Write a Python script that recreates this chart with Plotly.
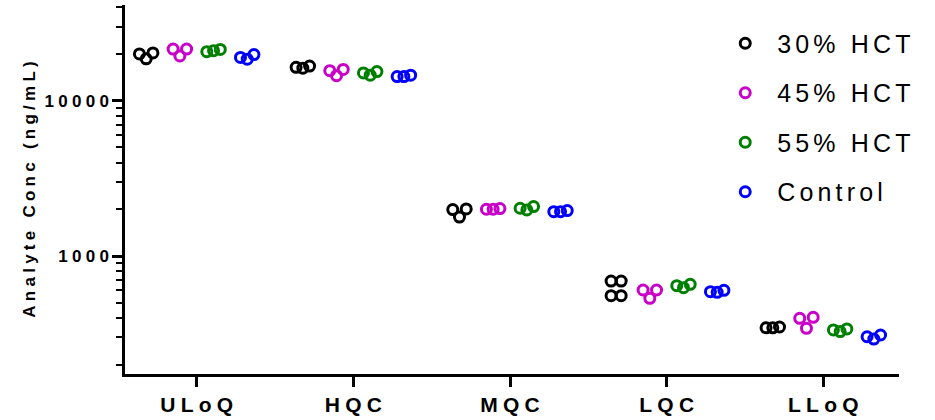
import plotly.graph_objects as go

# Quality-control levels on the x axis
categories = ["ULoQ", "HQC", "MQC", "LQC", "LLoQ"]

# Measured concentrations (ng/mL), replicates per QC level
hct30 = [[20000, 18600, 20300], [16400, 16200, 16700], [1990, 1780, 2010],
         [690, 690, 555, 555], [345, 345, 349]]
hct45 = [[21500, 19400, 21500], [15600, 14500, 15900], [2000, 2000, 2020],
         [604, 534, 604], [397, 342, 403]]
hct55 = [[20700, 21000, 21400], [15100, 14600, 15400], [2030, 1980, 2080],
         [644, 625, 657], [334, 326, 339]]
control = [[19000, 18500, 19800], [14300, 14300, 14600], [1930, 1930, 1960],
           [589, 584, 601], [302, 292, 310]]

series_names = ["30% HCT", "45% HCT", "55% HCT", "Control"]
series_data = [hct30, hct45, hct55, control]
colors = ["#000000", "#C800C8", "#008000", "#0000FF"]

y_major = [1000, 10000]
y_minor = [m * 10 ** e for e in (2, 3, 4) for m in range(2, 10) if 170 < m * 10 ** e < 41000]

GROUP_W = 0.215   # spacing between series within one category
STEP = 0.043      # horizontal spread between replicates


def spread(n):
    """Horizontal offsets for n replicate points of a scatter-dot column."""
    if n == 4:
        return [-0.75 * STEP, 0.75 * STEP, -0.75 * STEP, 0.75 * STEP]
    return [(k - (n - 1) / 2) * STEP for k in range(n)]


def spaced(text, gap):
    return gap.join(text)


fig = go.Figure()
for j, (name, data, col) in enumerate(zip(series_names, series_data, colors)):
    xs, ys = [], []
    for i, vals in enumerate(data):
        base = i + (j - 1.5) * GROUP_W
        for off, v in zip(spread(len(vals)), vals):
            xs.append(base + off)
            ys.append(v)
    fig.add_trace(go.Scatter(
        x=xs, y=ys, mode="markers", name=spaced(name, "\u2006"),
        legendgroup=name,
        marker=dict(symbol="circle-open", size=10, color=col, line=dict(width=3)),
    ))

fig.update_layout(
    width=935, height=420,
    margin=dict(l=125, r=36, t=5, b=46),
    paper_bgcolor="white", plot_bgcolor="white",
    font=dict(family="Liberation Sans, Arial, sans-serif", color="black"),
    showlegend=True,
    legend=dict(
        x=0.76, y=0.958, xanchor="left", yanchor="top",
        font=dict(size=25, family="Liberation Sans, Arial, sans-serif"),
        itemwidth=54, tracegroupgap=14, bgcolor="rgba(0,0,0,0)",
    ),
    xaxis=dict(
        range=[-0.4577, 4.4832],
        tickmode="array", tickvals=list(range(len(categories))),
        ticktext=[spaced(c, "\u2005") for c in categories],
        tickfont=dict(size=21, weight="bold"),
        showgrid=False, zeroline=False,
        showline=True, linewidth=2.5, linecolor="black",
        ticks="outside", ticklen=10, tickwidth=2.5, tickcolor="black",
    ),
    yaxis=dict(
        type="log", range=[2.2402, 4.6162],
        tickmode="array", tickvals=y_major,
        ticktext=[spaced(str(v), "\u2005") for v in y_major],
        tickfont=dict(size=17, weight="bold"),
        ticklabelstandoff=0,
        showgrid=False, zeroline=False,
        showline=True, linewidth=2.5, linecolor="black",
        ticks="outside", ticklen=10, tickwidth=2.5, tickcolor="black",
        minor=dict(tickmode="array", tickvals=y_minor, ticks="outside",
                   ticklen=6, tickwidth=2, tickcolor="black", showgrid=False),
        title=dict(text=spaced("Analyte Conc (ng/mL)", "\u2005"),
                   font=dict(size=17, weight="bold"), standoff=5),
    ),
)

fig.write_html("out.html")
